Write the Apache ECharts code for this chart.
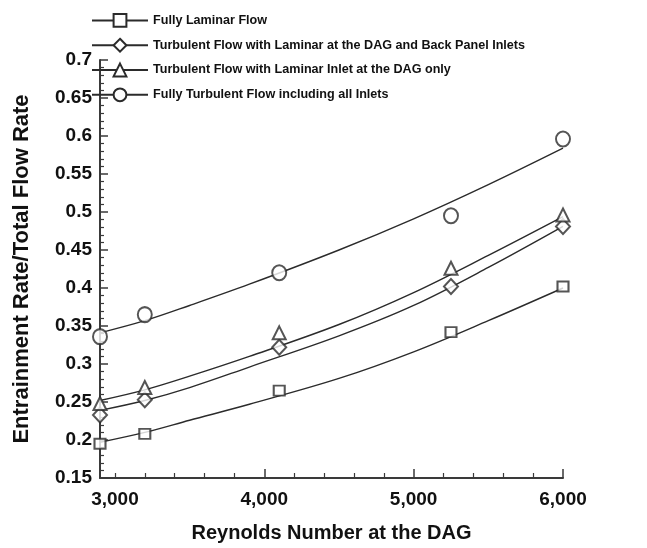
<!DOCTYPE html>
<html>
<head>
<meta charset="utf-8">
<script src="https://cdn.jsdelivr.net/npm/echarts@6/dist/echarts.min.js"></script>
<style>
html,body{margin:0;padding:0;background:#fff;}
#chart{width:647px;height:548px;}
</style>
</head>
<body>
<div id="chart"></div>
<script>
// ---- data ----
var seriesNames = [
  'Fully Laminar Flow',
  'Turbulent Flow with Laminar at the DAG and Back Panel Inlets',
  'Turbulent Flow with Laminar Inlet at the DAG only',
  'Fully Turbulent Flow including all Inlets'
];
var reynolds = [2900, 3200, 4100, 5250, 6000];
var laminarPts = [0.195, 0.208, 0.265, 0.342, 0.402];
var backPanelPts = [0.233, 0.253, 0.322, 0.402, 0.481];
var dagOnlyPts = [0.248, 0.269, 0.341, 0.426, 0.496];
var turbulentPts = [0.336, 0.365, 0.420, 0.495, 0.596];

// fitted curves
var fitX = [2900, 3200, 3500, 3900, 4500, 5000, 5500, 6000];
var laminarFit = [0.197, 0.210, 0.226, 0.247, 0.281, 0.316, 0.357, 0.400];
var backPanelFit = [0.239, 0.252, 0.269, 0.296, 0.337, 0.377, 0.427, 0.481];
var dagOnlyFit = [0.252, 0.266, 0.284, 0.310, 0.352, 0.394, 0.443, 0.494];
var turbulentFit = [0.341, 0.357, 0.377, 0.405, 0.450, 0.491, 0.536, 0.584];

var xLabelValues = [3000, 4000, 5000, 6000];
var xMajorTicks = [4000, 5000, 6000];
var xMinorTicks = [3000, 3200, 3400, 3600, 3800, 4200, 4400, 4600, 4800, 5200, 5400, 5600, 5800];

var symbols = ['emptyRect', 'emptyDiamond', 'emptyTriangle', 'emptyCircle'];
var symbolSizes = [[11, 10], [14, 15], [13, 13], [14, 15]];

function pairs(xs, ys) { return xs.map(function (x, i) { return [x, ys[i]]; }); }

var INK = '#2b2b2b';
var FONT = '"Liberation Sans", Arial, Helvetica, sans-serif';

var ptsAll = [laminarPts, backPanelPts, dagOnlyPts, turbulentPts];
var fitAll = [laminarFit, backPanelFit, dagOnlyFit, turbulentFit];

var series = [];
for (var i = 0; i < 4; i++) {
  series.push({
    name: seriesNames[i],
    type: 'line',
    xAxisIndex: 0,
    data: pairs(fitX, fitAll[i]),
    smooth: 0.35,
    showSymbol: false,
    symbol: symbols[i],
    symbolSize: 11,
    lineStyle: { color: INK, width: 1.4 },
    itemStyle: { color: INK, borderWidth: 1.5 },
    z: 2,
    silent: true
  });
}
for (var j = 0; j < 4; j++) {
  series.push({
    name: seriesNames[j] + ' data',
    type: 'scatter',
    xAxisIndex: 0,
    data: pairs(reynolds, ptsAll[j]),
    symbol: symbols[j],
    symbolSize: symbolSizes[j],
    itemStyle: { color: INK, borderColor: INK, borderWidth: 1.5 },
    clip: false,
    z: 5,
    silent: true
  });
}

var chart = echarts.init(document.getElementById('chart'), null, { renderer: 'canvas' });
chart.setOption({
  animation: false,
  backgroundColor: '#fff',
  textStyle: { fontFamily: FONT },
  grid: { left: 100, right: 84, top: 60, bottom: 70, containLabel: false },
  legend: {
    data: seriesNames,
    orient: 'vertical',
    left: 86,
    top: 8,
    itemWidth: 56,
    itemHeight: 16,
    itemGap: 10,
    lineStyle: { width: 2 },
    textStyle: { fontFamily: FONT, fontWeight: 'bold', fontSize: 12.6, color: '#111' },
    selectedMode: false
  },
  xAxis: [{
    type: 'value',
    min: 2900,
    max: 6000,
    splitLine: { show: false },
    axisLine: { show: true, lineStyle: { color: '#3a3a3a', width: 2 } },
    axisTick: { show: true, inside: true, length: 9, customValues: xMajorTicks, lineStyle: { color: '#3a3a3a', width: 1.5 } },
    axisLabel: {
      customValues: xLabelValues,
      fontFamily: FONT, fontWeight: 'bold', fontSize: 19, color: '#111', margin: 12,
      formatter: function (v) { return v.toLocaleString('en-US'); }
    },
    name: 'Reynolds Number at the DAG',
    nameLocation: 'middle',
    nameGap: 45,
    nameTextStyle: { fontFamily: FONT, fontWeight: 'bold', fontSize: 20, color: '#111' }
  }, {
    type: 'value',
    min: 2900,
    max: 6000,
    position: 'bottom',
    splitLine: { show: false },
    axisLine: { show: false },
    axisTick: { show: true, inside: true, length: 5, customValues: xMinorTicks, lineStyle: { color: '#3a3a3a', width: 1.2 } },
    axisLabel: { show: false }
  }],
  yAxis: {
    type: 'value',
    min: 0.15,
    max: 0.7,
    interval: 0.05,
    splitLine: { show: false },
    axisLine: { show: true, lineStyle: { color: '#3a3a3a', width: 2 } },
    axisTick: { show: true, inside: true, length: 8, lineStyle: { color: '#3a3a3a', width: 1.5 } },
    minorTick: { show: true, splitNumber: 5, length: 4, lineStyle: { color: '#3a3a3a', width: 1.2 } },
    axisLabel: { fontFamily: FONT, fontWeight: 'bold', fontSize: 19, color: '#111', margin: 8 },
    name: 'Entrainment Rate/Total Flow Rate',
    nameLocation: 'middle',
    nameGap: 67,
    nameTextStyle: { fontFamily: FONT, fontWeight: 'bold', fontSize: 22, color: '#111' }
  },
  series: series
});
</script>
</body>
</html>
